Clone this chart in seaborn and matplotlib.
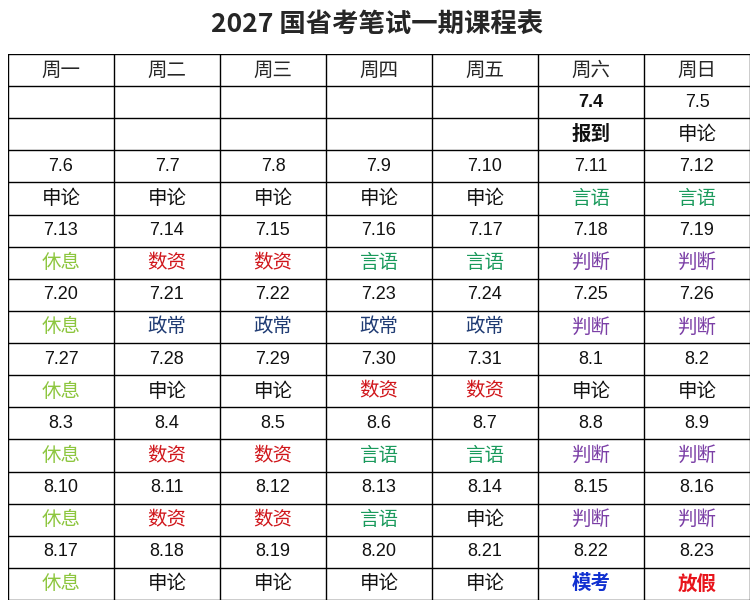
import matplotlib
matplotlib.use("Agg")
import matplotlib.pyplot as plt
import seaborn as sns

sns.set_theme(style="white")
plt.rcParams['font.family'] = ['Noto Sans CJK SC', 'DejaVu Sans']

title = "2027 国省考笔试一期课程表"
weekdays = ["周一", "周二", "周三", "周四", "周五", "周六", "周日"]
dates = [
    ["", "", "", "", "", "7.4", "7.5"],
    ["7.6", "7.7", "7.8", "7.9", "7.10", "7.11", "7.12"],
    ["7.13", "7.14", "7.15", "7.16", "7.17", "7.18", "7.19"],
    ["7.20", "7.21", "7.22", "7.23", "7.24", "7.25", "7.26"],
    ["7.27", "7.28", "7.29", "7.30", "7.31", "8.1", "8.2"],
    ["8.3", "8.4", "8.5", "8.6", "8.7", "8.8", "8.9"],
    ["8.10", "8.11", "8.12", "8.13", "8.14", "8.15", "8.16"],
    ["8.17", "8.18", "8.19", "8.20", "8.21", "8.22", "8.23"],
]
subjects = [
    ["", "", "", "", "", "报到", "申论"],
    ["申论", "申论", "申论", "申论", "申论", "言语", "言语"],
    ["休息", "数资", "数资", "言语", "言语", "判断", "判断"],
    ["休息", "政常", "政常", "政常", "政常", "判断", "判断"],
    ["休息", "申论", "申论", "数资", "数资", "申论", "申论"],
    ["休息", "数资", "数资", "言语", "言语", "判断", "判断"],
    ["休息", "数资", "数资", "言语", "申论", "判断", "判断"],
    ["休息", "申论", "申论", "申论", "申论", "模考", "放假"],
]
colors = {"申论": "#111111", "休息": "#8dc63f", "数资": "#d0161b", "言语": "#1a9a5c",
          "判断": "#7b3fa6", "政常": "#1f3b73", "报到": "#111111", "模考": "#1030d0",
          "放假": "#e8141b", "": "#111111"}
bold_items = {"报到", "模考", "放假", "7.4"}

fig = plt.figure(figsize=(7.54, 6.06), dpi=100)
fig.text(0.5, 1 - 24 / 606, title, ha="center", va="center", fontsize=19, fontweight="bold")
ax = fig.add_axes([8 / 754, 6 / 606, 742 / 754, 546 / 606])
nrows = 1 + 2 * len(dates)
ax.set_xlim(0, 7)
ax.set_ylim(nrows, 0)
ax.axis("off")
for i in range(nrows + 1):
    ax.plot([0, 7], [i, i], color="black", lw=1)
for j in range(8):
    ax.plot([j, j], [0, nrows], color="black", lw=1)

for j, w in enumerate(weekdays):
    ax.text(j + 0.5, 0.5, w, ha="center", va="center", fontsize=14)
for r, (drow, srow) in enumerate(zip(dates, subjects)):
    for j in range(7):
        d, s = drow[j], srow[j]
        ax.text(j + 0.5, 1 + 2 * r + 0.5, d, ha="center", va="center", fontsize=13,
                family=["Liberation Sans", "DejaVu Sans"],
                fontweight="bold" if d in bold_items else "normal", color="#111111")
        ax.text(j + 0.5, 2 + 2 * r + 0.5, s, ha="center", va="center", fontsize=14,
                fontweight="bold" if s in bold_items else "normal", color=colors[s])

fig.savefig("out.png", dpi=100)
